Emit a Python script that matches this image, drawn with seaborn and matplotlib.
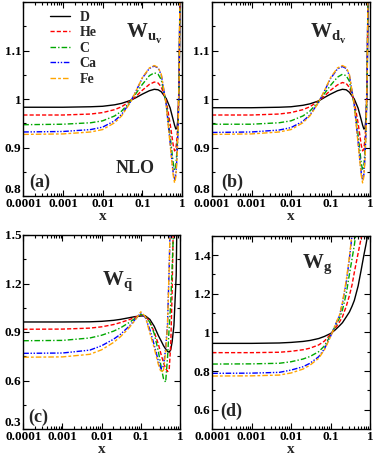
import pandas as pd
import matplotlib
matplotlib.use("Agg")
import matplotlib.pyplot as plt
import seaborn as sns
from matplotlib.ticker import FixedLocator, MultipleLocator, LogLocator, NullFormatter, FuncFormatter

# nuclei and their line styles
NUCLEI = ["D", "He", "C", "Ca", "Fe"]
COLORS = {"D": "black", "He": "#ff0000", "C": "#00a800", "Ca": "#0000ff", "Fe": "#ffa500"}
DASHES = {"D": "", "He": (3, 1.5), "C": (4, 1.5, 1, 1.5),
          "Ca": (4, 1.2, 1, 1.2, 1, 1.2), "Fe": (4, 1.5, 2, 1.5)}

# (a) W_uv  and (b) W_dv
XV = [1e-4, 1e-3, 0.005, 0.01, 0.02, 0.03, 0.05, 0.07, 0.1, 0.15, 0.2,
      0.25, 0.3, 0.4, 0.5, 0.6, 0.65, 0.7, 0.75, 0.8, 0.85, 0.9]
UV_D = [0.983, 0.983, 0.984, 0.985, 0.988, 0.991, 0.997, 1.003, 1.010, 1.017, 1.020,
        1.019, 1.015, 1.001, 0.982, 0.957, 0.946, 0.938, 0.940, 0.965, 1.040, 1.250]
UV_He = [0.967, 0.967, 0.969, 0.972, 0.978, 0.984, 0.996, 1.006, 1.018, 1.030, 1.035,
         1.033, 1.025, 0.996, 0.950, 0.905, 0.893, 0.897, 0.920, 0.965, 1.050, 1.260]
UV_C = [0.947, 0.948, 0.951, 0.955, 0.965, 0.975, 0.995, 1.012, 1.030, 1.048, 1.054,
        1.051, 1.040, 0.990, 0.925, 0.868, 0.853, 0.862, 0.895, 0.950, 1.050, 1.270]
UV_Ca = [0.932, 0.933, 0.937, 0.942, 0.955, 0.968, 0.994, 1.017, 1.043, 1.063, 1.068,
         1.064, 1.050, 0.989, 0.912, 0.848, 0.833, 0.845, 0.882, 0.945, 1.050, 1.280]
UV_Fe = [0.927, 0.928, 0.932, 0.937, 0.951, 0.965, 0.993, 1.017, 1.044, 1.064, 1.069,
         1.065, 1.051, 0.988, 0.908, 0.843, 0.827, 0.840, 0.878, 0.942, 1.050, 1.280]

DV_D = [0.982, 0.982, 0.983, 0.984, 0.987, 0.990, 0.996, 1.003, 1.010, 1.017, 1.020,
        1.019, 1.014, 1.000, 0.981, 0.957, 0.946, 0.938, 0.940, 0.965, 1.040, 1.250]
DV_He = [0.967, 0.967, 0.969, 0.972, 0.978, 0.984, 0.996, 1.006, 1.018, 1.029, 1.034,
         1.032, 1.024, 0.995, 0.950, 0.905, 0.893, 0.897, 0.920, 0.965, 1.050, 1.260]
DV_C = [0.948, 0.948, 0.951, 0.955, 0.965, 0.975, 0.995, 1.011, 1.028, 1.045, 1.051,
        1.048, 1.037, 0.988, 0.925, 0.868, 0.853, 0.862, 0.895, 0.950, 1.050, 1.270]
DV_Ca = [0.931, 0.932, 0.936, 0.941, 0.954, 0.967, 0.993, 1.016, 1.042, 1.062, 1.067,
         1.063, 1.049, 0.988, 0.912, 0.848, 0.833, 0.845, 0.882, 0.945, 1.050, 1.280]
DV_Fe = [0.927, 0.928, 0.932, 0.937, 0.951, 0.965, 0.993, 1.017, 1.044, 1.064, 1.069,
         1.065, 1.051, 0.988, 0.908, 0.843, 0.827, 0.840, 0.878, 0.942, 1.050, 1.280]

# (c) W_qbar
XQ = [1e-4, 1e-3, 0.005, 0.01, 0.02, 0.03, 0.05, 0.07, 0.1, 0.13, 0.17, 0.22,
      0.28, 0.33, 0.38, 0.43, 0.48, 0.53, 0.58, 0.63, 0.7, 0.8, 0.9]
Q_D = [0.962, 0.962, 0.963, 0.966, 0.972, 0.978, 0.988, 0.995, 0.999, 1.000, 0.978, 0.935,
       0.878, 0.845, 0.815, 0.795, 0.780, 0.775, 0.790, 0.840, 0.940, 1.250, 2.200]
Q_He = [0.917, 0.918, 0.924, 0.932, 0.946, 0.958, 0.976, 0.990, 1.004, 1.000, 0.962, 0.900,
        0.825, 0.760, 0.710, 0.675, 0.655, 0.668, 0.820, 1.150, 1.800, 2.500, 3.000]
Q_C = [0.846, 0.848, 0.863, 0.880, 0.905, 0.925, 0.958, 0.983, 1.008, 1.000, 0.960, 0.890,
       0.780, 0.685, 0.610, 0.590, 0.740, 0.930, 1.080, 1.300, 1.600, 2.200, 3.000]
Q_Ca = [0.768, 0.770, 0.788, 0.815, 0.855, 0.885, 0.935, 0.975, 1.018, 0.990, 0.915, 0.820,
        0.720, 0.670, 0.690, 0.800, 0.950, 1.300, 1.700, 2.200, 3.000, 3.000, 3.000]
Q_Fe = [0.744, 0.746, 0.762, 0.790, 0.835, 0.870, 0.925, 0.970, 1.025, 0.995, 0.894, 0.800,
        0.700, 0.650, 0.665, 0.780, 0.940, 1.300, 1.700, 2.200, 3.000, 3.000, 3.000]

# (d) W_g
XG = [1e-4, 1e-3, 0.005, 0.01, 0.02, 0.03, 0.05, 0.07, 0.1, 0.13, 0.17,
      0.2, 0.25, 0.3, 0.35, 0.4, 0.5, 0.6, 0.7, 0.8, 0.9, 1.0]
G_D = [0.943, 0.943, 0.945, 0.948, 0.953, 0.958, 0.968, 0.979, 0.994, 1.012, 1.035,
       1.050, 1.080, 1.105, 1.135, 1.165, 1.240, 1.325, 1.400, 1.460, 1.520, 1.650]
G_He = [0.895, 0.895, 0.897, 0.902, 0.910, 0.918, 0.935, 0.955, 0.990, 1.020, 1.055,
        1.080, 1.135, 1.190, 1.245, 1.310, 1.410, 1.490, 1.580, 1.700, 1.800, 1.900]
G_C = [0.836, 0.837, 0.840, 0.848, 0.862, 0.875, 0.900, 0.930, 0.985, 1.030, 1.075,
       1.115, 1.200, 1.300, 1.380, 1.450, 1.600, 1.750, 1.900, 2.000, 2.100, 2.200]
G_Ca = [0.788, 0.789, 0.793, 0.805, 0.822, 0.840, 0.874, 0.915, 0.980, 1.035, 1.090,
        1.150, 1.260, 1.380, 1.500, 1.600, 1.800, 2.000, 2.200, 2.400, 2.500, 2.600]
G_Fe = [0.774, 0.775, 0.779, 0.790, 0.810, 0.830, 0.866, 0.910, 0.978, 1.035, 1.092,
        1.155, 1.270, 1.390, 1.510, 1.620, 1.820, 2.000, 2.200, 2.400, 2.500, 2.600]


def long_frame(x, series):
    rows = []
    for name, vals in zip(NUCLEI, series):
        for xi, yi in zip(x, vals):
            rows.append({"x": xi, "W": yi, "nucleus": name})
    return pd.DataFrame(rows)


sns.set_theme(context="paper", style="ticks")
plt.rcParams["font.family"] = ["Liberation Serif", "DejaVu Serif"]
plt.rcParams["font.weight"] = "bold"
plt.rcParams["mathtext.fontset"] = "custom"
plt.rcParams["mathtext.rm"] = "Liberation Serif"
plt.rcParams["mathtext.bf"] = "Liberation Serif:bold"
plt.rcParams["axes.linewidth"] = 1.0

fig = plt.figure(figsize=(3.74, 4.58), dpi=100)
W, H = 374, 458


def add_ax(l, r, t, b):
    return fig.add_axes([l / W, 1 - b / H, (r - l) / W, (b - t) / H])


ax_a = add_ax(23.3, 182, 2, 196)
ax_b = add_ax(212, 370, 2, 196)
ax_c = add_ax(23.3, 180, 235, 429)
ax_d = add_ax(212.3, 370, 235.7, 429)

panels = [
    (ax_a, XV, [UV_D, UV_He, UV_C, UV_Ca, UV_Fe], (0.8, 1.2), [0.8, 0.9, 1.0, 1.1], 0.05),
    (ax_b, XV, [DV_D, DV_He, DV_C, DV_Ca, DV_Fe], (0.8, 1.2), [0.8, 0.9, 1.0, 1.1], 0.05),
    (ax_c, XQ, [Q_D, Q_He, Q_C, Q_Ca, Q_Fe], (0.3, 1.5), [0.3, 0.6, 0.9, 1.2, 1.5], 0.15),
    (ax_d, XG, [G_D, G_He, G_C, G_Ca, G_Fe], (0.5, 1.5), [0.6, 0.8, 1.0, 1.2, 1.4], 0.1),
]

for ax, xs, series, ylim, yt, ymin in panels:
    df = long_frame(xs, series)
    sns.lineplot(data=df, x="x", y="W", hue="nucleus", style="nucleus",
                 hue_order=NUCLEI, style_order=NUCLEI, palette=COLORS, dashes=DASHES,
                 estimator=None, sort=False, legend=False, lw=1.0, ax=ax)
    ax.set_xscale("log")
    ax.set_xlim(1e-4, 1)
    ax.set_ylim(*ylim)
    ax.xaxis.set_major_locator(FixedLocator([1e-4, 1e-3, 1e-2, 1e-1, 1]))
    ax.xaxis.set_major_formatter(FuncFormatter(lambda v, p: f"{v:g}" if v >= 1e-3 else "0.0001"))
    ax.xaxis.set_minor_locator(LogLocator(base=10, subs=range(2, 10), numticks=20))
    ax.xaxis.set_minor_formatter(NullFormatter())
    ax.yaxis.set_major_locator(FixedLocator(yt))
    ax.yaxis.set_major_formatter(FuncFormatter(lambda v, p: f"{v:g}"))
    ax.yaxis.set_minor_locator(MultipleLocator(ymin))
    ax.tick_params(which="both", direction="in", top=True, right=True, width=0.8,
                   labelsize=9.5, pad=1.5, colors="black")
    ax.tick_params(which="major", length=4)
    ax.tick_params(which="minor", length=2)
    ax.set_xlabel("x", fontsize=11, fontweight="bold", labelpad=0)
    ax.set_ylabel("")
    for s in ax.spines.values():
        s.set_color("black")
    # lift the lowest y label a little, as in the original figure
    fig.canvas.draw()
    ylabs = ax.get_yticklabels()
    if ylim[0] == yt[0]:
        ylabs[0].set_verticalalignment("bottom")

# legend in panel (a)
ax_a.legend(ax_a.get_lines()[:5], NUCLEI, loc="upper left", bbox_to_anchor=(0.17, 0.955),
            frameon=False, fontsize=10, handlelength=1.4, handletextpad=0.7,
            labelspacing=0.18, borderpad=0, borderaxespad=0)

ax_a.text(0.65, 0.835, r"$\mathbf{W}_{\mathbf{u}_{\mathbf{v}}}$", transform=ax_a.transAxes,
          fontsize=15, ha="left", va="center")
ax_b.text(0.62, 0.835, r"$\mathbf{W}_{\mathbf{d}_{\mathbf{v}}}$", transform=ax_b.transAxes,
          fontsize=15, ha="left", va="center")
ax_c.text(0.50, 0.76, r"$\mathbf{W}_{\bar{\mathbf{q}}}$", transform=ax_c.transAxes,
          fontsize=15, ha="left", va="center")
ax_d.text(0.57, 0.85, r"$\mathbf{W}_{\mathbf{g}}$", transform=ax_d.transAxes,
          fontsize=15, ha="left", va="center")
ax_a.text(0.705, 0.14, "NLO", transform=ax_a.transAxes, fontsize=13,
          fontweight="bold", ha="center", va="center")

for ax, lab, pos in [(ax_a, "(a)", (0.105, 0.07)), (ax_b, "(b)", (0.13, 0.07)),
                     (ax_c, "(c)", (0.094, 0.06)), (ax_d, "(d)", (0.12, 0.09))]:
    ax.text(pos[0], pos[1], lab, transform=ax.transAxes, fontsize=13,
            fontweight="bold", ha="center", va="center")

fig.savefig("out.png", dpi=100)
